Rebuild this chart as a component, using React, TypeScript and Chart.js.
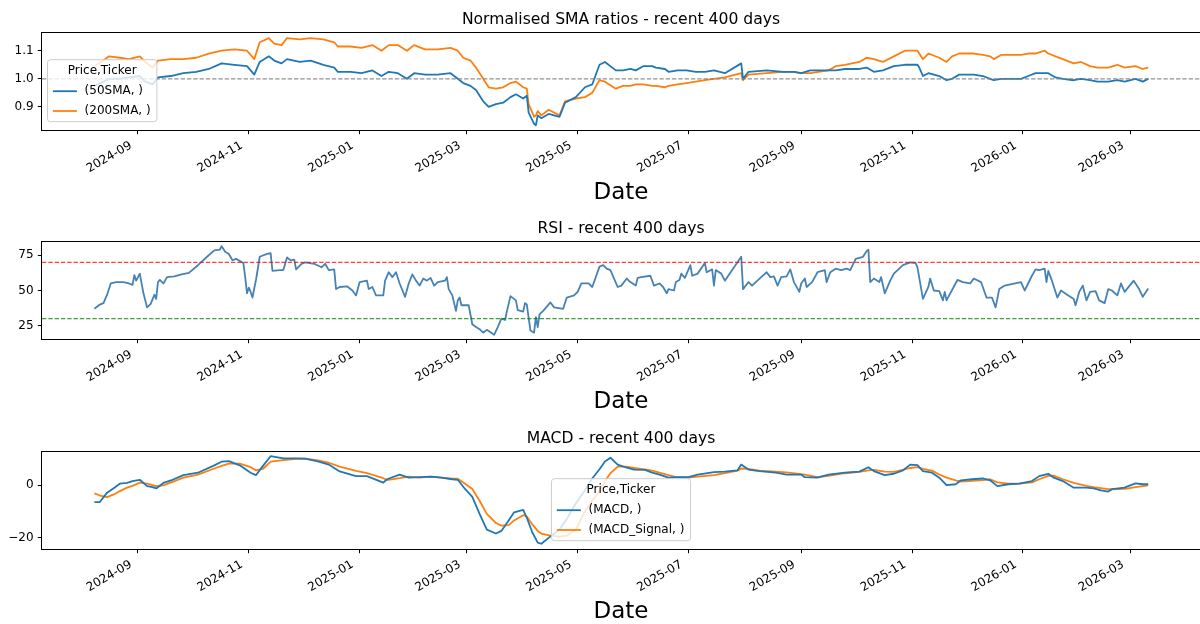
import { useEffect, useRef } from 'react';
import { Chart, registerables } from 'chart.js';

Chart.register(...registerables);
Chart.defaults.font.family = '"DejaVu Sans", sans-serif';

// ---------------- data ----------------
const SMA_DATES = [
  '2024-08-08','2024-08-13','2024-08-16','2024-08-22','2024-08-27','2024-09-02','2024-09-05','2024-09-09','2024-09-12','2024-09-19',
  '2024-09-26','2024-10-03','2024-10-10','2024-10-17','2024-10-24','2024-10-31','2024-11-04','2024-11-07','2024-11-12','2024-11-15',
  '2024-11-19','2024-11-22','2024-11-29','2024-12-05','2024-12-12','2024-12-18','2024-12-20','2024-12-27','2025-01-02','2025-01-08',
  '2025-01-13','2025-01-17','2025-01-22','2025-01-27','2025-01-31','2025-02-06','2025-02-13','2025-02-20','2025-02-24','2025-02-27',
  '2025-03-03','2025-03-06','2025-03-10','2025-03-13','2025-03-17','2025-03-21','2025-03-25','2025-03-28','2025-04-01','2025-04-03',
  '2025-04-04','2025-04-07','2025-04-08','2025-04-09','2025-04-11','2025-04-15','2025-04-21','2025-04-24','2025-04-30','2025-05-05',
  '2025-05-09','2025-05-13','2025-05-16','2025-05-22','2025-05-26','2025-05-30','2025-06-02','2025-06-06','2025-06-11','2025-06-13',
  '2025-06-18','2025-06-20','2025-06-25','2025-06-30','2025-07-05','2025-07-10','2025-07-15','2025-07-21','2025-07-30','2025-07-31',
  '2025-08-03','2025-08-13','2025-08-22','2025-08-28','2025-09-01','2025-09-06','2025-09-16','2025-09-20','2025-09-25','2025-10-03',
  '2025-10-07','2025-10-11','2025-10-16','2025-10-22','2025-10-28','2025-11-04','2025-11-05','2025-11-07','2025-11-10','2025-11-16',
  '2025-11-20','2025-11-23','2025-11-27','2025-12-05','2025-12-10','2025-12-14','2025-12-16','2025-12-20','2025-12-31','2026-01-04',
  '2026-01-08','2026-01-13','2026-01-15','2026-01-19','2026-01-23','2026-01-29','2026-02-02','2026-02-07','2026-02-11','2026-02-17',
  '2026-02-22','2026-02-26','2026-03-04','2026-03-08','2026-03-11',
];
const SMA50 = [
  0.975,0.99,1.0,1.0,1.005,1.01,0.99,0.98,1.005,1.01,
  1.02,1.025,1.035,1.055,1.05,1.045,1.015,1.06,1.08,1.065,
  1.055,1.07,1.06,1.065,1.05,1.04,1.025,1.025,1.02,1.03,
  1.01,1.025,1.02,1.0,1.02,1.015,1.015,1.02,1.0,0.985,
  0.975,0.96,0.92,0.9,0.91,0.915,0.935,0.945,0.93,0.94,
  0.88,0.84,0.835,0.87,0.86,0.875,0.865,0.915,0.935,0.97,
  0.98,1.05,1.06,1.03,1.03,1.035,1.03,1.045,1.045,1.04,
  1.035,1.025,1.03,1.03,1.025,1.025,1.03,1.02,1.055,1.0,
  1.025,1.03,1.025,1.025,1.02,1.03,1.03,1.03,1.035,1.035,
  1.04,1.025,1.03,1.045,1.05,1.05,1.04,1.01,1.02,1.01,
  0.995,1.0,1.015,1.015,1.01,1.0,0.995,1.0,1.0,1.01,
  1.02,1.02,1.02,1.005,1.0,0.995,1.0,0.995,0.99,0.99,
  0.995,0.99,1.0,0.99,1.0,
];
const SMA200 = [
  1.045,1.065,1.08,1.075,1.07,1.08,1.06,1.04,1.065,1.07,
  1.07,1.075,1.09,1.1,1.105,1.1,1.07,1.13,1.145,1.125,
  1.12,1.145,1.14,1.145,1.14,1.13,1.115,1.115,1.11,1.12,
  1.1,1.12,1.12,1.1,1.12,1.105,1.105,1.11,1.1,1.075,
  1.065,1.04,1.0,0.97,0.965,0.97,0.985,0.99,0.97,0.965,
  0.91,0.865,0.87,0.885,0.87,0.89,0.87,0.92,0.93,0.935,
  0.95,0.995,0.99,0.965,0.975,0.975,0.98,0.98,0.975,0.975,
  0.97,0.975,0.98,0.985,0.99,0.995,1.0,1.005,1.02,0.995,
  1.015,1.02,1.025,1.025,1.02,1.02,1.03,1.045,1.05,1.06,
  1.075,1.07,1.06,1.08,1.1,1.1,1.09,1.07,1.09,1.075,
  1.06,1.08,1.09,1.09,1.085,1.08,1.07,1.085,1.085,1.09,
  1.09,1.1,1.09,1.08,1.07,1.055,1.06,1.045,1.04,1.04,
  1.05,1.04,1.045,1.035,1.04,
];

const RSI_DATES = [
  '2024-08-08','2024-08-11','2024-08-13','2024-08-15','2024-08-17','2024-08-20','2024-08-24','2024-08-27','2024-08-29','2024-08-30',
  '2024-08-31','2024-09-02','2024-09-04','2024-09-06','2024-09-08','2024-09-10','2024-09-11','2024-09-12','2024-09-13','2024-09-15',
  '2024-09-17','2024-09-21','2024-09-25','2024-09-29','2024-10-04','2024-10-09','2024-10-13','2024-10-16','2024-10-17','2024-10-19',
  '2024-10-21','2024-10-23','2024-10-25','2024-10-29','2024-10-30','2024-10-31','2024-11-01','2024-11-02','2024-11-03','2024-11-05',
  '2024-11-07','2024-11-11','2024-11-13','2024-11-14','2024-11-18','2024-11-20','2024-11-22','2024-11-24','2024-11-26','2024-11-27',
  '2024-11-30','2024-12-02','2024-12-07','2024-12-11','2024-12-13','2024-12-15','2024-12-18','2024-12-19','2024-12-21','2024-12-25',
  '2024-12-28','2024-12-30','2025-01-01','2025-01-05','2025-01-06','2025-01-08','2025-01-10','2025-01-14','2025-01-15','2025-01-17',
  '2025-01-19','2025-01-21','2025-01-23','2025-01-26','2025-01-28','2025-01-30','2025-02-01','2025-02-03','2025-02-05','2025-02-07',
  '2025-02-09','2025-02-11','2025-02-13','2025-02-17','2025-02-18','2025-02-19','2025-02-21','2025-02-23','2025-02-24','2025-02-25',
  '2025-02-26','2025-03-02','2025-03-04','2025-03-06','2025-03-08','2025-03-10','2025-03-12','2025-03-16','2025-03-18','2025-03-20',
  '2025-03-22','2025-03-23','2025-03-25','2025-03-28','2025-03-29','2025-04-01','2025-04-02','2025-04-03','2025-04-05','2025-04-07',
  '2025-04-08','2025-04-09','2025-04-10','2025-04-12','2025-04-16','2025-04-18','2025-04-23','2025-04-25','2025-04-29','2025-05-01',
  '2025-05-03','2025-05-07','2025-05-09','2025-05-13','2025-05-15','2025-05-17','2025-05-19','2025-05-23','2025-05-25','2025-05-28',
  '2025-05-30','2025-06-02','2025-06-03','2025-06-05','2025-06-10','2025-06-12','2025-06-15','2025-06-17','2025-06-19','2025-06-20',
  '2025-06-23','2025-06-24','2025-06-26','2025-06-27','2025-06-29','2025-07-02','2025-07-03','2025-07-06','2025-07-10','2025-07-11',
  '2025-07-14','2025-07-15','2025-07-16','2025-07-19','2025-07-21','2025-07-30','2025-07-31','2025-08-03','2025-08-05','2025-08-07',
  '2025-08-10','2025-08-13','2025-08-15','2025-08-17','2025-08-19','2025-08-21','2025-08-24','2025-08-26','2025-08-28','2025-08-31',
  '2025-09-01','2025-09-03','2025-09-04','2025-09-07','2025-09-10','2025-09-14','2025-09-15','2025-09-17','2025-09-20','2025-09-23',
  '2025-09-26','2025-09-28','2025-10-01','2025-10-05','2025-10-07','2025-10-08','2025-10-09','2025-10-11','2025-10-14','2025-10-15',
  '2025-10-17','2025-10-20','2025-10-22','2025-10-27','2025-10-31','2025-11-03','2025-11-04','2025-11-07','2025-11-10','2025-11-11',
  '2025-11-13','2025-11-16','2025-11-18','2025-11-19','2025-11-20','2025-11-26','2025-11-29','2025-12-03','2025-12-05','2025-12-09',
  '2025-12-12','2025-12-15','2025-12-17','2025-12-19','2025-12-22','2025-12-31','2026-01-02','2026-01-06','2026-01-08','2026-01-10',
  '2026-01-13','2026-01-14','2026-01-15','2026-01-17','2026-01-20','2026-01-22','2026-01-26','2026-01-29','2026-01-30','2026-02-01',
  '2026-02-03','2026-02-05','2026-02-07','2026-02-10','2026-02-12','2026-02-15','2026-02-17','2026-02-19','2026-02-22','2026-02-24',
  '2026-02-26','2026-03-03','2026-03-06','2026-03-08','2026-03-11',
];
const RSI = [
  37,40,41,47,55,56,56,55,54,61,
  57,62,48,38,40.5,47,44,56,57.5,55,
  59.5,60,61.5,62.5,68,74,78.5,79,81.5,77.5,
  76,71.5,72.5,69.5,59.5,48,52,49,45,58,
  74,76,76.5,64,64.5,64.5,73.5,71.5,72,65,
  69,70,69,66.5,69,64.5,65,51,52.5,53,
  50,46.5,56,57,51,52.5,46.5,46.5,57,63,
  59.5,63,55,45.5,55,61.5,57,53.5,58.5,57,
  59,53.5,56,57,59.5,51,46.5,35.5,43,45,
  39.5,39.5,26,24,22.5,20,22,18.5,24,30,
  29,35,46,43,36,35,41,40,21.5,20,
  31,24,33,35.5,41.5,38,37,45,46.5,49,
  55,55,52.5,67,68,65.5,64.5,52.5,53.5,58.5,
  56,53.5,59,59.5,60.5,53.5,55,52.5,48,51,
  50,56,57.5,62,59,68,60.5,62,69.5,63,
  65,53.5,64.5,62,57,74,51,56,53.5,56,
  59.5,63,59.5,60,53.5,59.5,60,65,56,49,
  55,58.5,52.5,56,63,64.5,56,63,65.5,64.5,
  65.5,64.5,72.5,74,78,79,56,58.5,56,59.5,
  48,57,62,68,70,69.5,66.5,44,52.5,58.5,
  50,49.5,43,49,43,57.5,56,55,58.5,56,
  45,45,38,51,53.5,56,50,60.5,65,64.5,
  65.5,56,64,57,45,50,46.5,44,39.5,49,
  53.5,43,49,49.5,43,41,51,50,46.5,55,
  49,57,51,45.5,51.5,
];

const MACD_DATES = [
  '2024-08-08','2024-08-11','2024-08-15','2024-08-19','2024-08-22','2024-08-26','2024-08-29','2024-09-02','2024-09-06','2024-09-09',
  '2024-09-11','2024-09-15','2024-09-20','2024-09-26','2024-10-04','2024-10-13','2024-10-17','2024-10-21','2024-10-27','2024-11-02',
  '2024-11-05','2024-11-09','2024-11-13','2024-11-20','2024-11-27','2024-12-02','2024-12-09','2024-12-15','2024-12-21','2024-12-30',
  '2025-01-05','2025-01-14','2025-01-16','2025-01-23','2025-01-28','2025-02-03','2025-02-09','2025-02-15','2025-02-21','2025-02-24',
  '2025-02-28','2025-03-04','2025-03-08','2025-03-12','2025-03-17','2025-03-20','2025-03-24','2025-03-27','2025-04-01','2025-04-03',
  '2025-04-06','2025-04-09','2025-04-11','2025-04-16','2025-04-21','2025-04-25','2025-04-30','2025-05-05','2025-05-09','2025-05-13',
  '2025-05-16','2025-05-19','2025-05-23','2025-05-28','2025-06-01','2025-06-07','2025-06-11','2025-06-15','2025-06-20','2025-06-24',
  '2025-07-01','2025-07-06','2025-07-15','2025-07-21','2025-07-28','2025-07-30','2025-08-03','2025-08-09','2025-08-18','2025-08-24',
  '2025-09-01','2025-09-03','2025-09-10','2025-09-16','2025-09-25','2025-10-03','2025-10-08','2025-10-11','2025-10-17','2025-10-22',
  '2025-10-27','2025-10-31','2025-11-04','2025-11-07','2025-11-12','2025-11-16','2025-11-20','2025-11-25','2025-11-28','2025-12-04',
  '2025-12-10','2025-12-14','2025-12-18','2025-12-24','2025-12-30','2026-01-06','2026-01-10','2026-01-15','2026-01-18','2026-01-23',
  '2026-01-29','2026-02-05','2026-02-09','2026-02-13','2026-02-17','2026-02-19','2026-02-26','2026-02-28','2026-03-04','2026-03-08',
  '2026-03-11',
];
const MACD = [
  -6.5,-6.5,-2.9,-1.0,0.5,0.8,1.5,2.0,-0.4,-0.8,
  -1.3,0.8,2.0,3.8,4.7,7.5,8.9,9.1,7.5,4.7,
  3.8,7.5,11.0,10.2,10.2,10.1,9.0,7.8,5.2,3.4,
  3.4,0.9,2.2,4.0,2.8,3.0,3.2,2.8,2.2,2.0,
  -1.5,-4.5,-11.0,-17.0,-18.5,-17.5,-13.5,-10.4,-9.5,-12.5,
  -18.0,-22.0,-22.4,-19.6,-17.0,-13.0,-7.0,-2.0,2.5,6.0,
  9.0,10.4,7.8,6.6,5.9,5.8,4.7,4.0,2.8,3.0,
  3.0,4.0,4.9,5.1,5.6,7.8,5.9,5.3,4.7,4.0,
  4.0,3.0,2.8,4.0,4.7,5.1,6.8,5.3,3.8,4.3,
  5.6,7.8,7.6,5.3,4.7,2.8,0.0,0.3,1.8,2.2,
  2.5,1.8,-0.4,0.3,0.5,1.5,3.4,4.3,2.8,1.5,
  -1.0,-1.0,-1.3,-2.0,-2.5,-1.6,-1.0,-0.4,0.6,0.3,
  0.3,
];
const MACD_SIGNAL = [
  -3.2,-4.0,-4.6,-3.5,-2.3,-1.0,-0.3,0.9,0.5,0.0,
  -0.4,-0.1,1.2,2.8,4.0,6.3,7.3,8.2,8.2,6.8,
  5.6,6.3,8.9,9.5,10.0,10.1,9.4,8.5,7.0,5.4,
  4.5,2.6,1.9,2.6,3.2,2.8,3.2,2.8,2.4,2.4,
  0.5,-1.5,-6.0,-11.0,-14.5,-15.5,-15.3,-13.5,-11.5,-12.0,
  -15.0,-17.5,-18.5,-19.3,-19.7,-19.3,-17.0,-10.0,-6.0,-2.5,
  1.5,4.5,7.0,7.0,6.5,6.0,5.5,4.7,3.8,3.0,
  2.8,3.2,3.8,4.5,5.5,6.3,6.2,5.5,5.1,4.8,
  4.2,4.0,3.0,3.5,4.5,5.0,5.6,5.8,5.1,5.0,
  5.8,6.5,6.8,6.2,5.5,4.0,2.8,1.8,1.3,1.6,
  1.9,2.2,1.0,0.5,0.5,1.0,2.2,3.5,3.6,2.2,
  0.8,-0.3,-0.8,-1.2,-1.6,-1.6,-1.5,-1.3,-0.8,-0.4,
  -0.1,
];

const X_TICKS = [
  '2024-09-01','2024-11-01','2025-01-01','2025-03-01','2025-05-01',
  '2025-07-01','2025-09-01','2025-11-01','2026-01-01','2026-03-01',
];
const SMA_Y_TICKS = [0.9, 1.0, 1.1];
const RSI_Y_TICKS = [25, 50, 75];
const MACD_Y_TICKS = [-20, 0];

// ---------------- helpers ----------------
const ts = (d: string) => Date.parse(d + 'T00:00:00Z');
const pts = (dates: string[], vals: number[]) => dates.map((d, i) => ({ x: ts(d), y: vals[i] }));
const fmtMonth = (v: number) => {
  const d = new Date(v);
  return d.getUTCFullYear() + '-' + String(d.getUTCMonth() + 1).padStart(2, '0');
};
const X_MIN = Date.UTC(2024, 6, 10, 4);
const X_MAX = Date.UTC(2026, 3, 8, 12);
const FONT = '"DejaVu Sans", sans-serif';
const CANVAS_H = 205;
const PLOT_TOP = 33;
const PLOT_BOTTOM = 130;
const PLOT_LEFT = 42;

type HLine = { y: number; color: string };
type Item = { label: string; color: string; data: { x: number; y: number }[] };
type Spec = {
  title: string;
  items: Item[];
  yMin: number;
  yMax: number;
  yTicks: number[];
  yFmt: (v: number) => string;
  hlines: HLine[];
  legend: null | 'left' | 'center';
};

function drawLegend(ctx: CanvasRenderingContext2D, a: any, spec: Spec) {
  if (!spec.legend) return;
  ctx.save();
  ctx.font = '12px ' + FONT;
  const title = 'Price,Ticker';
  const lw = Math.max(...spec.items.map((it) => ctx.measureText(it.label).width));
  const tw = ctx.measureText(title).width;
  const w = Math.max(5.4 + 24 + 7.7 + lw + 6.2, tw + 12);
  const h = 62;
  const bottom = a.bottom - 8.3;
  const top = bottom - h;
  const left = spec.legend === 'left' ? a.left + 5.5 : (a.left + a.right) / 2 - w / 2;
  const r = 3;
  ctx.beginPath();
  ctx.moveTo(left + r, top);
  ctx.lineTo(left + w - r, top);
  ctx.arcTo(left + w, top, left + w, top + r, r);
  ctx.lineTo(left + w, top + h - r);
  ctx.arcTo(left + w, top + h, left + w - r, top + h, r);
  ctx.lineTo(left + r, top + h);
  ctx.arcTo(left, top + h, left, top + h - r, r);
  ctx.lineTo(left, top + r);
  ctx.arcTo(left, top, left + r, top, r);
  ctx.closePath();
  ctx.fillStyle = 'rgba(255,255,255,0.8)';
  ctx.fill();
  ctx.strokeStyle = '#cccccc';
  ctx.lineWidth = 1;
  ctx.stroke();
  ctx.fillStyle = '#000';
  ctx.textBaseline = 'middle';
  ctx.textAlign = 'center';
  ctx.fillText(title, left + w / 2, top + 11.5);
  ctx.textAlign = 'left';
  spec.items.forEach((it, i) => {
    const y = top + 31.5 + i * 19.8;
    ctx.strokeStyle = it.color;
    ctx.lineWidth = 1.8;
    ctx.beginPath();
    ctx.moveTo(left + 5.4, y);
    ctx.lineTo(left + 29.4, y);
    ctx.stroke();
    ctx.fillStyle = '#000';
    ctx.fillText(it.label, left + 37.1, y);
  });
  ctx.restore();
}

function buildConfig(spec: Spec): any {
  const decor = {
    id: 'decor',
    afterDatasetsDraw(chart: any) {
      const { ctx, chartArea: a, scales } = chart;
      ctx.save();
      ctx.beginPath();
      ctx.rect(a.left, a.top, a.right - a.left, a.bottom - a.top);
      ctx.clip();
      ctx.setLineDash([4.4, 1.9]);
      ctx.lineWidth = 1.2;
      for (const hl of spec.hlines) {
        const y = scales.y.getPixelForValue(hl.y);
        ctx.strokeStyle = hl.color;
        ctx.beginPath();
        ctx.moveTo(a.left, y);
        ctx.lineTo(a.right, y);
        ctx.stroke();
      }
      ctx.restore();
    },
    afterDraw(chart: any) {
      const { ctx, chartArea: a } = chart;
      ctx.save();
      ctx.strokeStyle = '#000';
      ctx.lineWidth = 1;
      ctx.strokeRect(a.left - 0.5, a.top - 0.5, a.right - a.left + 1, a.bottom - a.top + 1);
      ctx.fillStyle = '#000';
      ctx.font = '15.6px ' + FONT;
      ctx.textAlign = 'center';
      ctx.textBaseline = 'middle';
      ctx.fillText(spec.title, (a.left + a.right) / 2, a.top - 13);
      ctx.restore();
      drawLegend(ctx, a, spec);
    },
  };
  return {
    type: 'line',
    data: {
      datasets: spec.items.map((it) => ({
        label: it.label,
        data: it.data,
        borderColor: it.color,
        backgroundColor: it.color,
        borderWidth: 1.8,
        pointRadius: 0,
        tension: 0,
        fill: false,
        borderJoinStyle: 'round',
      })),
    },
    options: {
      responsive: false,
      maintainAspectRatio: false,
      devicePixelRatio: 1,
      animation: false,
      events: [],
      layout: { padding: { top: PLOT_TOP, left: 0, right: 0, bottom: 0 } },
      plugins: { legend: { display: false }, tooltip: { enabled: false }, title: { display: false } },
      scales: {
        x: {
          type: 'linear',
          min: X_MIN,
          max: X_MAX,
          afterBuildTicks: (s: any) => {
            s.ticks = X_TICKS.map((d) => ({ value: ts(d) }));
          },
          afterFit: (s: any) => {
            s.height = CANVAS_H - PLOT_BOTTOM;
          },
          ticks: {
            autoSkip: false,
            minRotation: 30,
            maxRotation: 30,
            padding: 4.2,
            labelOffset: -7,
            color: '#000',
            font: { size: 12 },
            callback: (v: number) => fmtMonth(v),
          },
          grid: { drawOnChartArea: false, drawTicks: true, tickLength: 4.2, color: '#000', lineWidth: 1 },
          border: { display: false },
          title: {
            display: true,
            text: 'Date',
            color: '#000',
            font: { size: 23, lineHeight: 1 },
            padding: { top: 0, bottom: 0.5 },
          },
        },
        y: {
          min: spec.yMin,
          max: spec.yMax,
          afterBuildTicks: (s: any) => {
            s.ticks = spec.yTicks.map((v) => ({ value: v }));
          },
          afterFit: (s: any) => {
            s.width = PLOT_LEFT;
          },
          ticks: {
            padding: 4.2,
            color: '#000',
            font: { size: 12 },
            callback: (v: number) => spec.yFmt(v),
          },
          grid: { drawOnChartArea: false, drawTicks: true, tickLength: 4.2, color: '#000', lineWidth: 1 },
          border: { display: false },
        },
      },
    },
    plugins: [decor],
  };
}

const minusFmt = (v: number) => (v < 0 ? '\u2212' + Math.abs(v) : String(v));

const SPECS: Spec[] = [
  {
    title: 'Normalised SMA ratios - recent 400 days',
    items: [
      { label: '(50SMA, )', color: '#1f77b4', data: pts(SMA_DATES, SMA50) },
      { label: '(200SMA, )', color: '#ff7f0e', data: pts(SMA_DATES, SMA200) },
    ],
    yMin: 0.818,
    yMax: 1.163,
    yTicks: SMA_Y_TICKS,
    yFmt: (v) => v.toFixed(1),
    hlines: [{ y: 1.0, color: 'rgba(128,128,128,0.85)' }],
    legend: 'left',
  },
  {
    title: 'RSI - recent 400 days',
    items: [{ label: 'RSI', color: '#4682b4', data: pts(RSI_DATES, RSI) }],
    yMin: 15.5,
    yMax: 84.5,
    yTicks: RSI_Y_TICKS,
    yFmt: (v) => String(v),
    hlines: [
      { y: 70, color: 'rgba(255,0,0,0.75)' },
      { y: 30, color: 'rgba(0,128,0,0.75)' },
    ],
    legend: null,
  },
  {
    title: 'MACD - recent 400 days',
    items: [
      { label: '(MACD, )', color: '#1f77b4', data: pts(MACD_DATES, MACD) },
      { label: '(MACD_Signal, )', color: '#ff7f0e', data: pts(MACD_DATES, MACD_SIGNAL) },
    ],
    yMin: -24.4,
    yMax: 12.6,
    yTicks: MACD_Y_TICKS,
    yFmt: minusFmt,
    hlines: [],
    legend: 'center',
  },
];

const TOPS = [0, 209, 419];

function Panel({ spec, top }: { spec: Spec; top: number }) {
  const ref = useRef<HTMLCanvasElement>(null);
  useEffect(() => {
    const chart = new Chart(ref.current as HTMLCanvasElement, buildConfig(spec));
    return () => chart.destroy();
  }, [spec]);
  return (
    <canvas
      ref={ref}
      width={1200}
      height={CANVAS_H}
      style={{ position: 'absolute', left: 0, top, width: 1200, height: CANVAS_H, display: 'block' }}
    />
  );
}

export default function App() {
  return (
    <div style={{ position: 'fixed', left: 0, top: 0, width: 1200, height: 624, background: '#fff', overflow: 'hidden' }}>
      {SPECS.map((s, i) => (
        <Panel key={i} spec={s} top={TOPS[i]} />
      ))}
    </div>
  );
}
